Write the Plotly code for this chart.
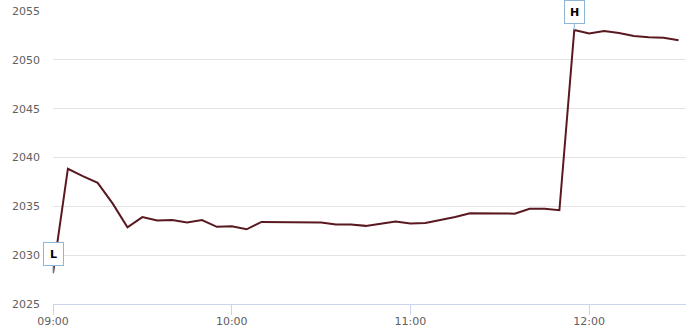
import plotly.graph_objects as go

times = ["09:00", "09:05", "09:10", "09:15", "09:20", "09:25", "09:30", "09:35",
         "09:40", "09:45", "09:50", "09:55", "10:00", "10:05", "10:10", "10:15",
         "10:20", "10:25", "10:30", "10:35", "10:40", "10:45", "10:50", "10:55",
         "11:00", "11:05", "11:10", "11:15", "11:20", "11:25", "11:30", "11:35",
         "11:40", "11:45", "11:50", "11:55", "12:00", "12:05", "12:10", "12:15",
         "12:20", "12:25", "12:30"]
prices = [2028.15, 2038.85, 2038.1, 2037.4, 2035.3, 2032.85, 2033.9, 2033.55,
          2033.6, 2033.35, 2033.6, 2032.9, 2032.95, 2032.65, 2033.4, 2033.4,
          2033.4, 2033.4, 2033.35, 2033.15, 2033.15, 2033.0, 2033.2, 2033.45,
          2033.25, 2033.3, 2033.6, 2033.9, 2034.3, 2034.3, 2034.25, 2034.25,
          2034.75, 2034.75, 2034.6, 2053.05, 2052.7, 2052.95, 2052.75, 2052.45,
          2052.3, 2052.25, 2052.0]
x_ticks = ["09:00", "10:00", "11:00", "12:00"]
y_ticks = [2025, 2030, 2035, 2040, 2045, 2050, 2055]

day = "2024-01-02 "
xs = [day + t for t in times]

fig = go.Figure()
fig.add_trace(go.Scatter(x=xs, y=prices, mode="lines",
                         line=dict(color="#5a1820", width=2), hoverinfo="skip"))

lo = prices.index(min(prices))
hi = prices.index(max(prices))
for idx, label, ay in [(lo, "L", -19), (hi, "H", -18)]:
    fig.add_annotation(x=xs[idx], y=prices[idx], text="<b>" + label + "</b>",
                       showarrow=True, arrowhead=0, arrowwidth=1,
                       arrowcolor="#8fb6d6", ax=0, ay=ay, standoff=0,
                       bgcolor="white", bordercolor="#8fb6d6", borderwidth=1,
                       borderpad=1, width=17, height=20,
                       font=dict(family="DejaVu Sans", size=11, color="black"))

fig.update_layout(
    width=686, height=331,
    margin=dict(l=53, r=0, t=11, b=27),
    paper_bgcolor="white", plot_bgcolor="white",
    showlegend=False,
    font=dict(family="DejaVu Sans", size=11, color="#606060"),
    xaxis=dict(type="date",
               range=[day + "09:00", day + "12:32:30"],
               tickvals=[day + t for t in x_ticks], ticktext=x_ticks,
               showgrid=False, showline=True, linecolor="#ccd6eb", linewidth=1,
               ticks="outside", ticklen=10, tickcolor="#ccd6eb", tickwidth=1,
               ticklabelstandoff=-3,
               zeroline=False, fixedrange=True),
    yaxis=dict(range=[2025, 2055], tickvals=y_ticks,
               showgrid=True, gridcolor="#e3e3e3", gridwidth=1,
               showline=False, zeroline=False, ticks="",
               ticklabelstandoff=12, fixedrange=True),
)

fig.write_html("out.html")
